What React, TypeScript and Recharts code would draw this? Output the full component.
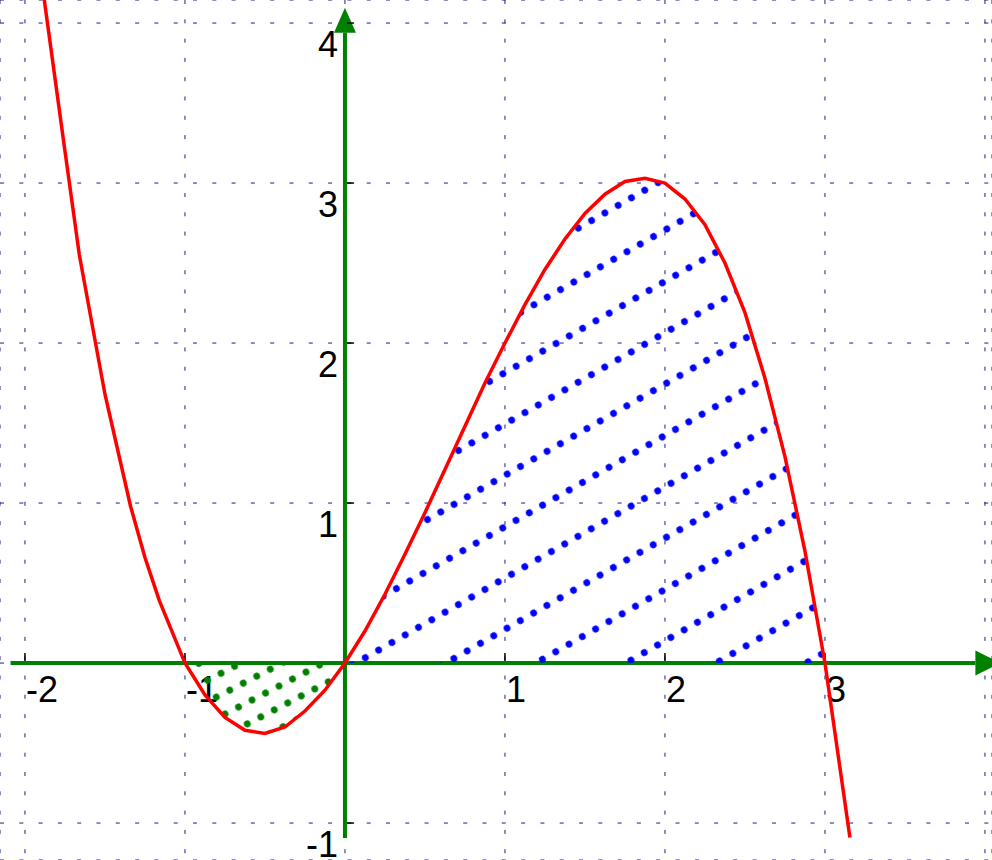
import React from 'react';
import {
  ComposedChart,
  Line,
  Area,
  XAxis,
  YAxis,
  CartesianGrid,
  ReferenceLine,
  ReferenceDot,
} from 'recharts';

// Curve points
const curveX = [
  -1.88, -1.75, -1.66, -1.5, -1.34, -1.25, -1.16, -1, -0.875, -0.75, -0.625, -0.5, -0.375,
  -0.25, -0.125, 0, 0.125, 0.25, 0.375, 0.5, 0.625, 0.75, 0.875, 1, 1.125, 1.25, 1.375, 1.5,
  1.625, 1.75, 1.875, 2, 2.125, 2.25, 2.375, 2.5, 2.625, 2.75, 2.875, 3, 3.156,
];
const curveY = [
  4.15, 3.2, 2.55, 1.68, 0.98, 0.66, 0.39, 0, -0.2, -0.34, -0.42, -0.44, -0.4,
  -0.3, -0.17, 0, 0.2, 0.43, 0.68, 0.94, 1.21, 1.48, 1.75, 2.0, 2.24, 2.46, 2.65, 2.81,
  2.93, 3.01, 3.03, 3.0, 2.9, 2.74, 2.5, 2.19, 1.78, 1.29, 0.7, 0, -1.09,
];

// Shaded regions (x ranges)
const blueRange = [0, 3];
const greenRange = [-1, 0];

// Axes / ticks
const gridX = [-2, -1, 0, 1, 2, 3, 4];
const gridY = [-1, 0, 1, 2, 3, 4];
const xTickValues = [-2, -1, 1, 2, 3];
const xTickLabels = ['-2', '-1', '1', '2', '3'];
const yTickValues = [-1, 1, 2, 3, 4];
const yTickLabels = ['-1', '1', '2', '3', '4'];

const xDomain = [-2.156, 4.044];
const yDomain = [-1.231, 4.144];
const xAxisSpan = [-2.09, 3.94];
const yAxisSpan = [-1.094, 3.94];

const data = curveX.map((x, i) => ({
  x,
  y: curveY[i],
  pos: x >= blueRange[0] && x <= blueRange[1] ? curveY[i] : null,
  neg: x >= greenRange[0] && x <= greenRange[1] ? curveY[i] : null,
}));

const GREEN = '#008000';
const FONT = '"Liberation Sans", Arial, sans-serif';
const FS = 36;

const XAxisShape = (p: any) => (
  <g>
    <line x1={p.x1} y1={p.y1} x2={p.x2} y2={p.y2} stroke={GREEN} strokeWidth={4} />
    <polygon
      points={`${p.x2},${p.y2 - 12.5} ${p.x2 + 25},${p.y2} ${p.x2},${p.y2 + 12.5}`}
      fill={GREEN}
    />
  </g>
);

const YAxisShape = (p: any) => (
  <g>
    <line x1={p.x1} y1={p.y1} x2={p.x2} y2={p.y2} stroke={GREEN} strokeWidth={4} />
    <polygon
      points={`${p.x2 - 11},${p.y2} ${p.x2},${p.y2 - 25} ${p.x2 + 11},${p.y2}`}
      fill={GREEN}
    />
  </g>
);

const makeXTick = (label: string) => (p: any) => (
  <g>
    <line x1={p.cx} y1={p.cy - 2} x2={p.cx} y2={p.cy - 10} stroke="#000" strokeWidth={1.5} />
    <text x={p.cx + 1} y={p.cy + 39} fontSize={FS} fontFamily={FONT} fill="#000" textAnchor="start">
      {label}
    </text>
  </g>
);

const makeYTick = (label: string) => (p: any) => (
  <g>
    <line x1={p.cx + 2} y1={p.cy} x2={p.cx + 9} y2={p.cy} stroke="#000" strokeWidth={1.5} />
    <text x={p.cx - 7} y={p.cy + 34} fontSize={FS} fontFamily={FONT} fill="#000" textAnchor="end">
      {label}
    </text>
  </g>
);

export default function App() {
  return (
    <div style={{ position: 'absolute', left: 0, top: 0, width: 992, height: 860, background: '#fff' }}>
      <ComposedChart
        width={992}
        height={860}
        data={data}
        margin={{ top: 0, right: 0, bottom: 0, left: 0 }}
      >
        <defs>
          <pattern
            id="blueHatch"
            patternUnits="userSpaceOnUse"
            width={15.3}
            height={44.6}
            x={-0.85}
            y={16.4}
            patternTransform="rotate(-29.7)"
          >
            <circle cx={7.65} cy={22.3} r={3.4} fill="#0000ff" />
          </pattern>
          <pattern
            id="greenHatch"
            patternUnits="userSpaceOnUse"
            width={15.2}
            height={19}
            x={0.4}
            y={6}
            patternTransform="rotate(-27.4)"
          >
            <circle cx={7.6} cy={9.5} r={3.4} fill={GREEN} />
          </pattern>
        </defs>
        <CartesianGrid stroke="#1c1c8c" strokeWidth={1} strokeDasharray="4 15.3" />
        <XAxis
          type="number"
          dataKey="x"
          domain={xDomain}
          ticks={gridX}
          allowDataOverflow
          hide
        />
        <YAxis type="number" domain={yDomain} ticks={gridY} allowDataOverflow hide />
        <ReferenceLine
          segment={[{ x: xAxisSpan[0], y: 0 }, { x: xAxisSpan[1], y: 0 }]}
          shape={XAxisShape}
          zIndex={50}
        />
        <ReferenceLine
          segment={[{ x: 0, y: yAxisSpan[0] }, { x: 0, y: yAxisSpan[1] }]}
          shape={YAxisShape}
          zIndex={50}
        />
        {xTickValues.map((v, i) => (
          <ReferenceDot key={'xt' + v} x={v} y={0} r={1} shape={makeXTick(xTickLabels[i])} zIndex={60} />
        ))}
        {yTickValues.map((v, i) => (
          <ReferenceDot key={'yt' + v} x={0} y={v} r={1} shape={makeYTick(yTickLabels[i])} zIndex={60} />
        ))}
        <Area
          type="linear"
          dataKey="pos"
          baseValue={0}
          stroke="none"
          fill="url(#blueHatch)"
          fillOpacity={1}
          isAnimationActive={false}
          dot={false}
          activeDot={false}
          zIndex={100}
        />
        <Area
          type="linear"
          dataKey="neg"
          baseValue={0}
          stroke="none"
          fill="url(#greenHatch)"
          fillOpacity={1}
          isAnimationActive={false}
          dot={false}
          activeDot={false}
          zIndex={100}
        />
        <Line
          type="linear"
          dataKey="y"
          stroke="#ff0000"
          strokeWidth={3.5}
          dot={false}
          activeDot={false}
          isAnimationActive={false}
          zIndex={400}
        />
      </ComposedChart>
    </div>
  );
}
